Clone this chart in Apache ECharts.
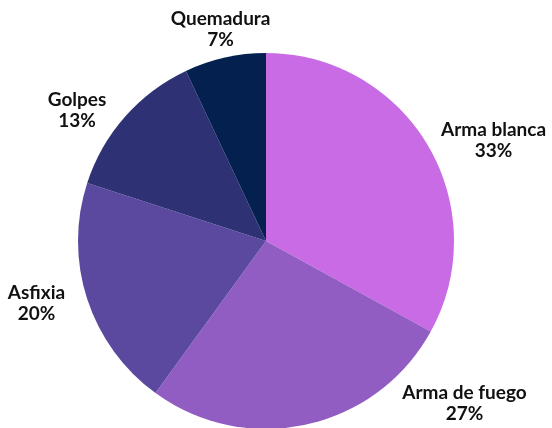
<!DOCTYPE html>
<html><head><meta charset="utf-8">
<script src="https://cdn.jsdelivr.net/npm/echarts@6/dist/echarts.min.js"></script>
<style>html,body{margin:0;padding:0;background:#fff}#c{width:552px;height:428px}</style>
</head><body><div id="c"></div>
<script>
const categories = ['Arma blanca', 'Arma de fuego', 'Asfixia', 'Golpes', 'Quemadura'];
const values = [33, 27, 20, 13, 7];
const colors = ['#c86be5', '#915dc3', '#5b49a0', '#2e3275', '#03204e'];
// label anchor (centre of the two-line label block), in px
const labelAnchors = [[493.5, 140], [464.5, 403.5], [36.5, 303], [77, 110.5], [220.6, 29.7]];

const chart = echarts.init(document.getElementById('c'), null, {renderer: 'canvas'});
chart.setOption({
  animation: false,
  series: [{
    type: 'pie',
    center: [266, 241],
    radius: 188,
    startAngle: 90,
    clockwise: true,
    data: categories.map((n, i) => ({name: n, value: values[i], itemStyle: {color: colors[i]}})),
    itemStyle: {borderWidth: 0},
    label: {
      show: true,
      position: 'outside',
      width: 150,
      overflow: 'none',
      formatter: '{a|{b}}\n{a|{d}%}',
      rich: {a: {align: 'center', fontFamily: 'Lato', fontWeight: 'bold', fontSize: 19, color: '#111', lineHeight: 21}}
    },
    labelLine: {show: false, length: 12, length2: 8},
    labelLayout: function (p) {
      const a = labelAnchors[p.dataIndex];
      return {x: a[0], y: a[1], align: 'center', verticalAlign: 'middle'};
    },
    emphasis: {disabled: true}
  }]
});
</script></body></html>
